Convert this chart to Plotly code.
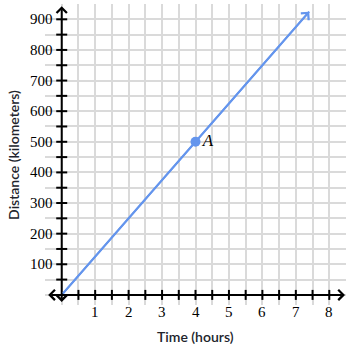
import plotly.graph_objects as go

# ---- data ----
time_hours = [0, 7.4]
distance_km = [0, 925]
point_x = [4]
point_y = [500]
point_label = ["A"]
x_tick_labels = [1, 2, 3, 4, 5, 6, 7, 8]
y_tick_labels = [100, 200, 300, 400, 500, 600, 700, 800, 900]
x_minor_ticks = [0.5 * i for i in range(1, 17)]
y_minor_ticks = [50 * i for i in range(1, 19)]

x_range = [-0.5, 8.5]
y_range = [-33, 950]

BLUE = "#6495ed"
GRID = "#dadada"
AXIS = "#000000"
SERIF = "Liberation Serif"
SANS = "Lato"

fig = go.Figure()

fig.add_trace(go.Scatter(
    x=time_hours, y=distance_km, mode="lines",
    line=dict(color=BLUE, width=2), hoverinfo="skip", showlegend=False))

fig.add_trace(go.Scatter(
    x=point_x, y=point_y, mode="markers+text",
    text=["<i>%s</i>" % t for t in point_label], textposition="middle right",
    textfont=dict(family=SERIF, size=17, color="#000"),
    marker=dict(color=BLUE, size=10), hoverinfo="skip", showlegend=False))

annotations = []
shapes = []

# axes with arrows
annotations.append(dict(x=8.47, y=0, ax=-0.45, ay=0, axref="x", ayref="y",
                        xref="x", yref="y", text="", showarrow=True,
                        arrowside="end+start", arrowhead=4, startarrowhead=4,
                        arrowsize=1, startarrowsize=1, arrowwidth=2, arrowcolor=AXIS))
annotations.append(dict(x=0, y=943, ax=0, ay=-28, axref="x", ayref="y",
                        xref="x", yref="y", text="", showarrow=True,
                        arrowside="end+start", arrowhead=4, startarrowhead=4,
                        arrowsize=1, startarrowsize=1, arrowwidth=2, arrowcolor=AXIS))

# arrowhead on the data line
annotations.append(dict(x=time_hours[-1], y=distance_km[-1], ax=time_hours[0], ay=distance_km[0],
                        axref="x", ayref="y", xref="x", yref="y", text="", showarrow=True,
                        arrowhead=4, arrowsize=1, arrowwidth=2, arrowcolor=BLUE))

# tick marks
for v in x_minor_ticks:
    shapes.append(dict(type="line", xref="x", yref="y", x0=v, x1=v,
                       ysizemode="pixel", yanchor=0, y0=-5, y1=5,
                       line=dict(color=AXIS, width=2)))
for v in y_minor_ticks:
    shapes.append(dict(type="line", xref="x", yref="y", y0=v, y1=v,
                       xsizemode="pixel", xanchor=0, x0=-5.5, x1=5.5,
                       line=dict(color=AXIS, width=2)))

# tick labels
for v in x_tick_labels:
    annotations.append(dict(x=v, y=0, xref="x", yref="y", text=str(v), showarrow=False,
                            yshift=-17, xanchor="center", yanchor="middle",
                            font=dict(family=SERIF, size=15, color="#000")))
for v in y_tick_labels:
    annotations.append(dict(x=0, y=v, xref="x", yref="y", text=str(v), showarrow=False,
                            xshift=-7, xanchor="right", yanchor="middle",
                            font=dict(family=SERIF, size=15, color="#000")))

# axis titles
annotations.append(dict(x=0.5, y=-0.106, xref="paper", yref="paper", text="Time (hours)",
                        showarrow=False, xanchor="center", yanchor="middle",
                        font=dict(family=SANS, size=14, color="#21242c", weight=600)))
annotations.append(dict(x=-0.105, y=0.5, xref="paper", yref="paper", text="Distance (kilometers)",
                        showarrow=False, xanchor="center", yanchor="middle", textangle=-90,
                        font=dict(family=SANS, size=14, color="#21242c", weight=600)))

fig.update_layout(
    width=353, height=347,
    margin=dict(l=45, r=7, t=4, b=42),
    plot_bgcolor="white", paper_bgcolor="white",
    xaxis=dict(range=x_range, tick0=0, dtick=0.5, showgrid=True, gridcolor=GRID, gridwidth=2,
               showticklabels=False, ticks="", zeroline=False, showline=False, fixedrange=True),
    yaxis=dict(range=y_range, tick0=0, dtick=50, showgrid=True, gridcolor=GRID, gridwidth=2,
               showticklabels=False, ticks="", zeroline=False, showline=False, fixedrange=True),
    annotations=annotations,
    shapes=shapes,
    showlegend=False,
)

fig.write_html("out.html")
